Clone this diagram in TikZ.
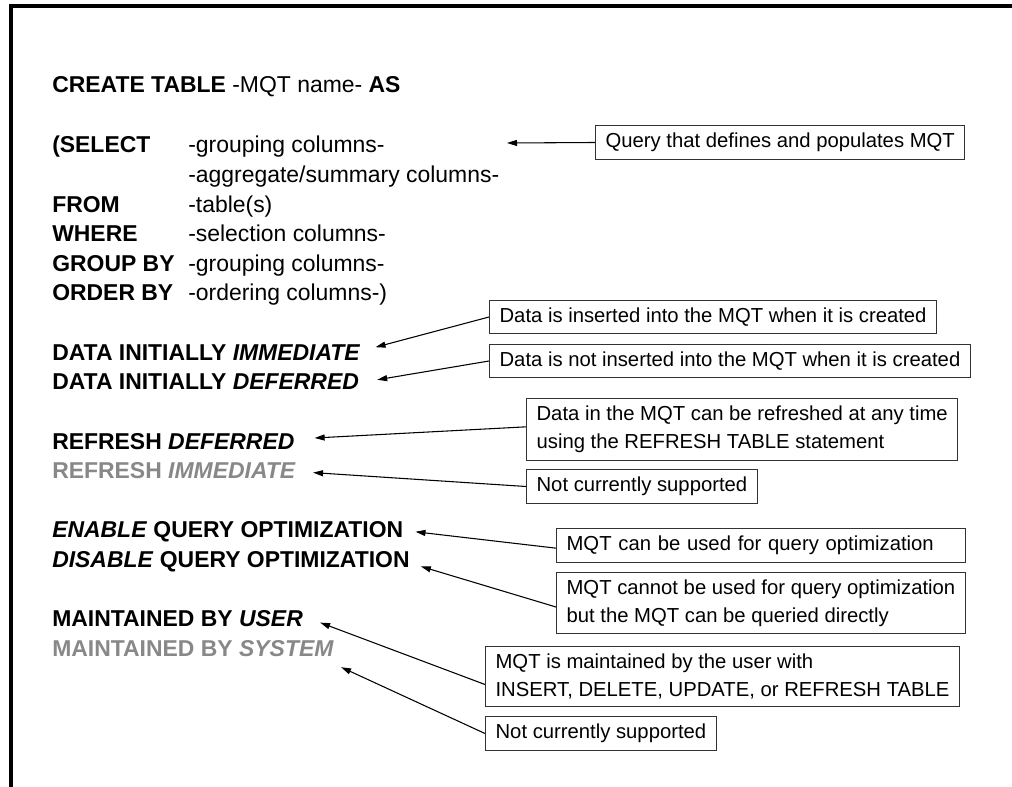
\documentclass[tikz,border=0pt]{standalone}
\usepackage{fontspec}
\setmainfont{Liberation Sans}
\usetikzlibrary{arrows.meta}

\definecolor{dimtext}{RGB}{136,136,136}
\definecolor{boxline}{RGB}{50,50,50}
\newcommand\sqlfont{\fontsize{17.2pt}{20pt}\selectfont}
\newcommand\calloutfont{\fontsize{15.2pt}{21pt}\selectfont}
\newlength\optwd

\tikzset{
  sqltext/.style={anchor=base west, inner sep=0pt, font=\sqlfont},
  dim/.style={text=dimtext},
  note/.style={draw=boxline, line width=0.9pt, anchor=west, align=left,
    inner xsep=7.5pt, inner ysep=5.5pt, font=\calloutfont},
  oneline/.style={minimum height=25pt},
  pointer/.style={draw=black, line width=0.8pt,
    -{Triangle[length=7.5pt,width=4.5pt]}},
}

\begin{document}
\settowidth\optwd{\calloutfont MQT cannot be used for query optimization}%
\begin{tikzpicture}[x=0.75pt,y=-0.75pt]
  \clip (0,0) rectangle (1012,787);

  % frame
  \draw[line width=3pt, line join=miter] (11,800) -- (11,5.7) -- (1030,5.7);

  % statement text
  \node[sqltext] (create) at (52,93) {\textbf{CREATE TABLE} -MQT name- \textbf{AS}};
  \node[sqltext] (kselect) at (52,153) {\textbf{(SELECT}};
  \node[sqltext] (cselect) at (188,153) {-grouping columns-};
  \node[sqltext] (cagg) at (188,182.6) {-aggregate/summary columns-};
  \node[sqltext] (kfrom) at (52,212.2) {\textbf{FROM}};
  \node[sqltext] (cfrom) at (188,212.2) {-table(s)};
  \node[sqltext] (kwhere) at (52,241.8) {\textbf{WHERE}};
  \node[sqltext] (cwhere) at (188,241.8) {-selection columns-};
  \node[sqltext] (kgroup) at (52,271.4) {\textbf{GROUP BY}};
  \node[sqltext] (cgroup) at (188,271.4) {-grouping columns-};
  \node[sqltext] (korder) at (52,301) {\textbf{ORDER BY}};
  \node[sqltext] (corder) at (188,301) {-ordering columns-)};

  \node[sqltext] (dimm) at (52,360.2) {\textbf{DATA INITIALLY \textit{IMMEDIATE}}};
  \node[sqltext] (ddef) at (52,389.8) {\textbf{DATA INITIALLY \textit{DEFERRED}}};
  \node[sqltext] (rdef) at (52,449) {\textbf{REFRESH \textit{DEFERRED}}};
  \node[sqltext,dim] (rimm) at (52,478.6) {\textbf{REFRESH \textit{IMMEDIATE}}};
  \node[sqltext] (qen) at (52,537.8) {\textbf{\textit{ENABLE} QUERY OPTIMIZATION}};
  \node[sqltext] (qdis) at (52,567.4) {\textbf{\textit{DISABLE} QUERY OPTIMIZATION}};
  \node[sqltext] (muser) at (52,626.6) {\textbf{MAINTAINED BY \textit{USER}}};
  \node[sqltext,dim] (msys) at (52,656.2) {\textbf{MAINTAINED BY \textit{SYSTEM}}};

  % callouts
  \node[note,oneline] (n1) at (595,142.5) {Query that defines and populates MQT};
  \node[note,oneline] (n2) at (489,317) {Data is inserted into the MQT when it is created};
  \node[note,oneline] (n3) at (489,361) {Data is not inserted into the MQT when it is created};
  \node[note] (n4) at (526,429.5) {Data in the MQT can be refreshed at any time\\using the REFRESH TABLE statement};
  \node[note,oneline] (n5) at (526,486.5) {Not currently supported};
  \node[note,oneline,text width=\optwd] (n6) at (556,545.5) {MQT can be used for query optimization};
  \node[note] (n7) at (556,603) {MQT cannot be used for query optimization\\but the MQT can be queried directly};
  \node[note] (n8) at (485,676.5) {MQT is maintained by the user with\\INSERT, DELETE, UPDATE, or REFRESH TABLE};
  \node[note,oneline] (n9) at (485,733.5) {Not currently supported};

  % pointers
  \coordinate (tip1) at (507,143);
  \draw[pointer] (n1.west) -- (tip1);
  \draw[pointer] (n2.west) -- ([xshift=11.25pt,yshift=9.75pt]dimm.base east);
  \draw[pointer] (n3.west) -- ([xshift=13.5pt,yshift=7.5pt]ddef.base east);
  \draw[pointer] ([yshift=2pt]n4.west) -- ([xshift=15pt,yshift=8.25pt]rdef.base east);
  \draw[pointer] (n5.west) -- ([xshift=12.75pt,yshift=4.5pt]rimm.base east);
  \draw[pointer] ([yshift=-2pt]n6.west) -- ([xshift=9pt,yshift=4.5pt]qen.base east);
  \draw[pointer] ([yshift=-3pt]n7.west) -- ([xshift=8.25pt,yshift=0.75pt]qdis.base east);
  \draw[pointer] ([yshift=-6pt]n8.west) -- ([xshift=12.75pt,yshift=3pt]muser.base east);
  \draw[pointer] (n9.west) -- ([xshift=5.25pt,yshift=-8.25pt]msys.base east);
\end{tikzpicture}
\end{document}
